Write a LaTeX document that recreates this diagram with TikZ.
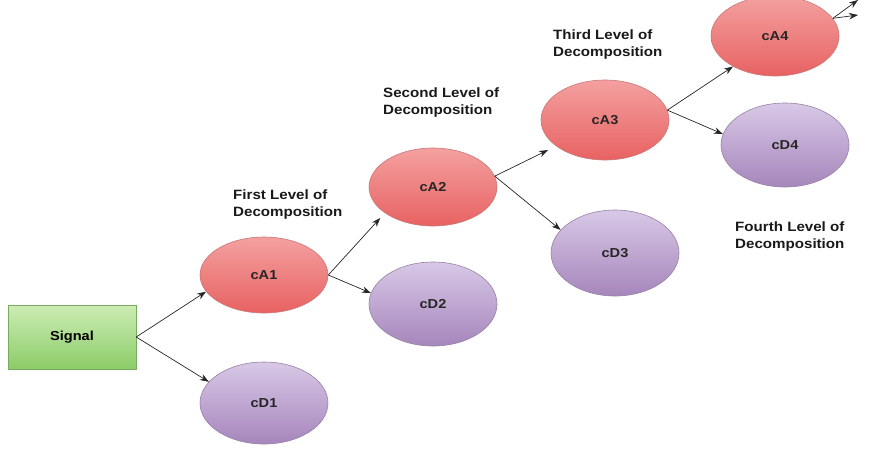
\documentclass[tikz,border=0pt]{standalone}
\usepackage{fontspec}
\setmainfont{Liberation Sans}[FakeStretch=1.12]
\usetikzlibrary{arrows.meta,shapes.geometric}
\definecolor{redtop}{RGB}{244,160,160}
\definecolor{redbot}{RGB}{232,98,98}
\definecolor{redline}{RGB}{200,120,120}
\definecolor{purtop}{RGB}{216,200,230}
\definecolor{purbot}{RGB}{166,134,188}
\definecolor{purline}{RGB}{150,130,165}
\definecolor{grtop}{RGB}{204,236,180}
\definecolor{grbot}{RGB}{140,204,104}
\definecolor{grline}{RGB}{120,170,95}
\tikzset{
  aell/.style={ellipse, minimum width=128pt, minimum height=76pt, top color=redtop, bottom color=redbot, draw=redline, line width=0.6pt, font=\bfseries\fontsize{13}{14}\selectfont, text=black!85},
  dell/.style={ellipse, minimum width=128pt, minimum height=82pt, top color=purtop, bottom color=purbot, draw=purline, line width=0.6pt, font=\bfseries\fontsize{13}{14}\selectfont, text=black!85},
  lbl/.style={align=left, anchor=north west, inner sep=0pt, font=\bfseries\fontsize{13.5}{17}\selectfont, text=black!90},
  arr/.style={-{Stealth[length=9pt,width=6.5pt]}, line width=0.7pt, draw=black!85}
}
\begin{document}
\begin{tikzpicture}[x=1pt,y=-1pt]
\useasboundingbox (0,0) rectangle (870,448);
\node[draw=grline, top color=grtop, bottom color=grbot, minimum width=128pt, minimum height=64pt, inner sep=0pt, font=\bfseries\fontsize{13}{14}\selectfont] (sig) at (72,337) {Signal};
\node[aell] (a1) at (264,275) {cA1};
\node[dell] (d1) at (264,403) {cD1};
\node[aell, minimum height=78pt] (a2) at (433,187) {cA2};
\node[dell, minimum height=84pt] (d2) at (433,304) {cD2};
\node[aell, minimum height=80pt] (a3) at (605,120) {cA3};
\node[dell, minimum height=86pt] (d3) at (615,253) {cD3};
\node[aell, minimum height=80pt] (a4) at (775,36) {cA4};
\node[dell, minimum height=84pt] (d4) at (785,145) {cD4};
\coordinate (o1) at (858,0);
\coordinate (o2) at (858,15);
\draw[arr] (sig.east) -- (a1.-164);
\draw[arr] (sig.east) -- (d1.159);
\draw[arr] (a1.east) -- ([shift={(-6pt,-4pt)}]a2.-150);
\draw[arr] (a1.east) -- (d2.170);
\draw[arr] (a2.10) -- ([shift={(-8pt,-4pt)}]a3.-152);
\draw[arr] (a2.10) -- (d3.157);
\draw[arr] (a3.9) -- (a4.-144);
\draw[arr] (a3.9) -- (d4.170);
\draw[arr] (a4.17) -- (o1);
\draw[arr] (a4.17) -- (o2);
\node[lbl] (l1) at (233,190) {First Level of\\Decomposition};
\node[lbl] (l2) at (383,88) {Second Level of\\Decomposition};
\node[lbl] (l3) at (553,30) {Third Level of\\Decomposition};
\node[lbl] (l4) at (735,222) {Fourth Level of\\Decomposition};
\end{tikzpicture}
\end{document}
